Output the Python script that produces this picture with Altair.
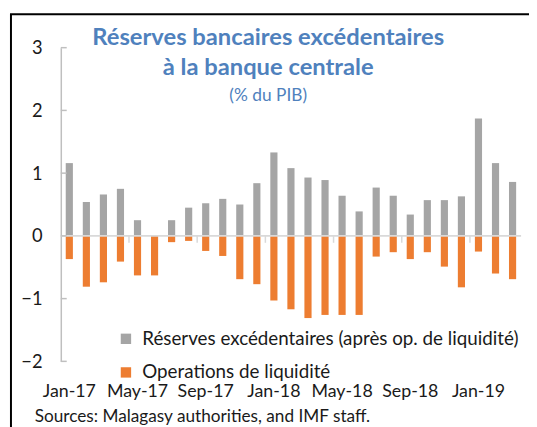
import altair as alt
import pandas as pd

months = ["Jan-17", "Feb-17", "Mar-17", "Apr-17", "May-17", "Jun-17", "Jul-17", "Aug-17",
          "Sep-17", "Oct-17", "Nov-17", "Dec-17", "Jan-18", "Feb-18", "Mar-18", "Apr-18",
          "May-18", "Jun-18", "Jul-18", "Aug-18", "Sep-18", "Oct-18", "Nov-18", "Dec-18",
          "Jan-19", "Feb-19", "Mar-19"]
reserves = [1.16, 0.54, 0.66, 0.75, 0.25, 0.0, 0.25, 0.45, 0.52, 0.59, 0.50, 0.84, 1.33,
            1.08, 0.93, 0.89, 0.64, 0.39, 0.77, 0.64, 0.34, 0.57, 0.57, 0.63, 1.87, 1.16, 0.86]
operations = [-0.37, -0.81, -0.74, -0.41, -0.63, -0.63, -0.10, -0.08, -0.24, -0.32, -0.69,
              -0.77, -1.03, -1.17, -1.31, -1.26, -1.26, -1.26, -0.33, -0.26, -0.37, -0.26,
              -0.49, -0.82, -0.25, -0.60, -0.69]
series_names = ["Réserves excédentaires (après op. de liquidité)", "Operations de liquidité"]
series_colors = ["#A5A5A5", "#ED7D31"]
label_months = ["Jan-17", "May-17", "Sep-17", "Jan-18", "May-18", "Sep-18", "Jan-19"]
boundary_months = ["May-17", "Sep-17", "Jan-18", "May-18", "Sep-18", "Jan-19"]
y_ticks = [-2, -1, 0, 1, 2, 3]
title_lines = ["Réserves bancaires excédentaires", "à la banque centrale"]
subtitle = "(% du PIB)"
source_text = "Sources: Malagasy authorities, and IMF staff."

FONT = "Lato"
TXT = "#1A1A1A"
W, H = 465.6, 317.3

df = pd.DataFrame({
    "month": months * 2,
    "value": reserves + operations,
    "series": [series_names[0]] * len(months) + [series_names[1]] * len(months),
})

x_scale = alt.Scale(domain=months, paddingInner=0, paddingOuter=0)
y_scale = alt.Scale(domain=[-2, 3], nice=False)
x_axis = alt.Axis(values=label_months, domain=False, ticks=False, labelAngle=0,
                  labelPadding=22, labelFont=FONT, labelFontSize=18,
                  labelColor=TXT, title=None)
y_axis = alt.Axis(values=y_ticks, format="d", grid=False, ticks=False, domainColor="#BFBFBF",
                  domainWidth=1.5, labelPadding=19, labelFont=FONT,
                  labelFontSize=18.5, labelColor=TXT, title=None)

bars = alt.Chart(df).mark_bar(width=alt.RelativeBandSize(0.42)).encode(
    x=alt.X("month:N", sort=months, scale=x_scale, axis=x_axis),
    y=alt.Y("value:Q", scale=y_scale, stack=None, axis=y_axis),
    color=alt.Color("series:N", sort=series_names,
                    scale=alt.Scale(domain=series_names, range=series_colors),
                    legend=alt.Legend(orient="none", legendX=56.4, legendY=285, title=None,
                                      symbolType="square", symbolSize=110, symbolStrokeWidth=0,
                                      labelFont=FONT, labelFontSize=19, labelColor=TXT,
                                      labelLimit=1000, rowPadding=14, labelOffset=7,
                                      padding=0, direction="vertical")),
)

zero = alt.Chart(pd.DataFrame({"value": [0]})).mark_rule(color="#D9D9D9", strokeWidth=2).encode(
    y=alt.Y("value:Q", scale=y_scale, axis=y_axis)
)

ytick_df = pd.DataFrame({"value": y_ticks})
yticks = alt.Chart(ytick_df).mark_rule(color="#BFBFBF", strokeWidth=1.5).encode(
    y=alt.Y("value:Q", scale=y_scale, axis=y_axis), x=alt.value(0), x2=alt.value(6)
)

bound_df = pd.DataFrame({"month": boundary_months})
xticks = alt.Chart(bound_df).mark_rule(color="#D9D9D9", strokeWidth=1.5).encode(
    x=alt.X("month:N", sort=months, scale=x_scale, bandPosition=0, axis=x_axis),
    y=alt.datum(0), y2=alt.datum(-0.11)
)

dummy = pd.DataFrame({"a": [0]})
frame_left = alt.Chart(dummy).mark_rule(color="#000000", strokeWidth=2).encode(
    x=alt.value(-50.4), y=alt.value(-33.7), y2=alt.value(440)
)
frame_top = alt.Chart(dummy).mark_rule(color="#000000", strokeWidth=2).encode(
    x=alt.value(-51.4), x2=alt.value(W + 20), y=alt.value(-33.7)
)
sources = alt.Chart(dummy).mark_text(text=source_text, align="left", baseline="alphabetic",
                                     font=FONT, fontSize=17.4, color=TXT).encode(
    x=alt.value(-26.4), y=alt.value(378.5)
)

chart = alt.layer(bars, zero, yticks, xticks, frame_left, frame_top, sources).properties(
    width=W, height=H,
    title=alt.TitleParams(text=title_lines, subtitle=subtitle, font=FONT, fontSize=24,
                          fontWeight="bold", color="#4F81BD", subtitleFont=FONT,
                          subtitleFontSize=17.5, subtitleColor="#4F81BD", anchor="middle",
                          dx=-23, offset=-92, lineHeight=30, subtitlePadding=7),
    autosize=alt.AutoSizeParams(type="none"),
    padding={"left": 53.4, "top": 37.7, "right": 8, "bottom": 66},
).configure_view(stroke=None)

chart.save("out.html", embed_options={"renderer": "svg", "actions": False})
